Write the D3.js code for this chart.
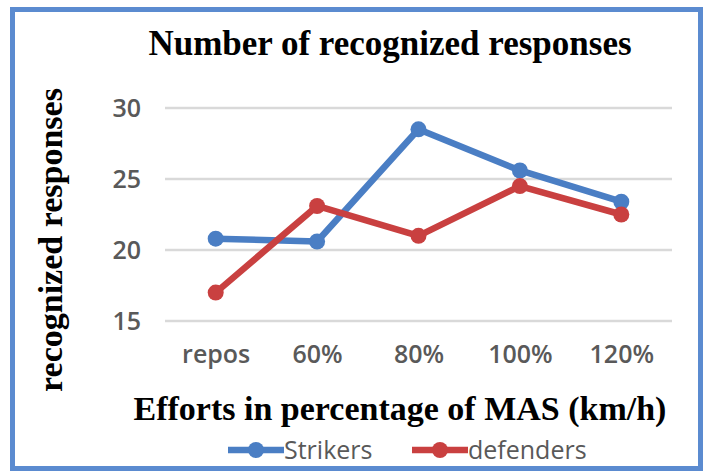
<!DOCTYPE html>
<html lang="en">
<head>
    <meta charset="UTF-8">
    <title>Number of recognized responses</title>
    <style>
        body { margin: 0; background: #fff; }
        .title, .axis-title { font-family: "Liberation Serif", serif; font-weight: bold; fill: #000; }
        .axis text { font-family: "Open Sans", sans-serif; font-size: 25px; font-weight: 600; fill: #595959; }
        .axis path, .axis line { display: none; }
        .grid line { stroke: #d9d9d9; stroke-width: 2.5; }
        .legend text { font-family: "Open Sans", sans-serif; font-size: 25px; fill: #595959; }
    </style>
</head>
<body>
    <svg width="708" height="472"></svg>
    <script src="https://d3js.org/d3.v7.min.js"></script>
    <script>
        var categories = ["repos", "60%", "80%", "100%", "120%"];
        var strikers = [20.8, 20.6, 28.5, 25.6, 23.4];
        var defenders = [17.0, 23.1, 21.0, 24.5, 22.5];
        var yTicks = [15, 20, 25, 30];
        var seriesNames = ["Strikers", "defenders"];
        var colors = ["#4a7ec4", "#c94040"];

        var svg = d3.select("svg");

        // frame
        svg.append("rect")
            .attr("x", 12.5).attr("y", 9.5)
            .attr("width", 688).attr("height", 459)
            .attr("fill", "#fff")
            .attr("stroke", "#5b8bd0")
            .attr("stroke-width", 5);

        var left = 165, right = 672;
        var x = d3.scalePoint().domain(categories).range([left, right]).padding(0.5);
        var y = d3.scaleLinear().domain([15, 30]).range([321, 108]);

        svg.append("g").attr("class", "grid")
            .selectAll("line").data(yTicks).enter().append("line")
            .attr("x1", left).attr("x2", right)
            .attr("y1", function(d){ return y(d); })
            .attr("y2", function(d){ return y(d); });

        svg.append("g")
            .attr("class", "axis")
            .attr("transform", "translate(" + (left - 24) + ",0)")
            .call(d3.axisLeft(y).tickValues(yTicks).tickSize(0).tickPadding(0))
            .selectAll("text").attr("dy", "0.35em");

        svg.append("g")
            .attr("class", "axis")
            .attr("transform", "translate(0,345)")
            .call(d3.axisBottom(x).tickSize(0).tickPadding(0))
            .selectAll("text").attr("dy", "0.71em");

        var line = d3.line()
            .x(function(d, i){ return x(categories[i]); })
            .y(function(d){ return y(d); });

        [strikers, defenders].forEach(function(vals, k){
            var g = svg.append("g");
            g.append("path").datum(vals)
                .attr("d", line)
                .attr("fill", "none")
                .attr("stroke", colors[k])
                .attr("stroke-width", 6.5)
                .attr("stroke-linejoin", "round");
            g.selectAll("circle").data(vals).enter().append("circle")
                .attr("cx", function(d, i){ return x(categories[i]); })
                .attr("cy", function(d){ return y(d); })
                .attr("r", 8)
                .attr("fill", colors[k]);
        });

        svg.append("text").attr("class", "title")
            .attr("x", 390).attr("y", 55)
            .attr("text-anchor", "middle")
            .attr("font-size", 35)
            .text("Number of recognized responses");

        svg.append("text").attr("class", "axis-title")
            .attr("transform", "translate(62,240) rotate(-90)")
            .attr("text-anchor", "middle")
            .attr("font-size", 34)
            .text("recognized responses");

        svg.append("text").attr("class", "axis-title")
            .attr("x", 400).attr("y", 420)
            .attr("text-anchor", "middle")
            .attr("font-size", 34)
            .text("Efforts in percentage of MAS (km/h)");

        var legend = svg.append("g").attr("class", "legend");
        var legendX = [228, 412];
        seriesNames.forEach(function(name, k){
            var lg = legend.append("g").attr("transform", "translate(" + legendX[k] + ",450)");
            lg.append("line").attr("x1", 0).attr("x2", 56)
                .attr("stroke", colors[k]).attr("stroke-width", 6.5);
            lg.append("circle").attr("cx", 28).attr("r", 8).attr("fill", colors[k]);
            lg.append("text").attr("x", 56).attr("dy", "0.35em").text(name);
        });
    </script>
</body>
</html>
